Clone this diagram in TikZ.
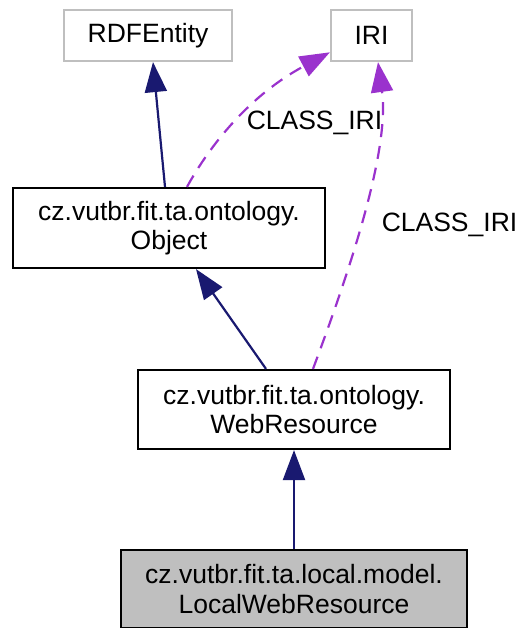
\documentclass[tikz,border=0pt]{standalone}
\usepackage{fontspec}
\setmainfont{Liberation Sans}
\usetikzlibrary{arrows.meta}
\definecolor{navyedge}{HTML}{191970}
\definecolor{purpleedge}{HTML}{9A32CD}
\definecolor{greybox}{HTML}{BFBFBF}
\begin{document}
\begin{tikzpicture}[x=1pt,y=-1pt,
  txt/.style={font=\fontsize{26.5}{29.5}\selectfont},
  cls/.style={txt,draw=black,line width=2.2pt,align=center,inner sep=0pt,fill=white},
  ext/.style={txt,draw=greybox,line width=2.2pt,align=center,inner sep=0pt,fill=white},
  inherit/.style={draw=navyedge,line width=2.2pt,-{Triangle[length=30pt,width=22pt]}},
  usage/.style={draw=purpleedge,line width=2.2pt,dash pattern=on 13pt off 9pt,-{Triangle[length=30pt,width=22pt]}},
  lbl/.style={txt}]
\useasboundingbox (0,0) rectangle (520,628);
\node[ext,minimum width=168pt,minimum height=51pt] (rdf) at (148,35.5) {RDFEntity};
\node[ext,minimum width=81pt,minimum height=51pt] (iri) at (371.5,35.5) {IRI};
\node[cls,minimum width=312pt,minimum height=80pt] (obj) at (169,228) {cz.vutbr.fit.ta.ontology.\\Object};
\node[cls,minimum width=312pt,minimum height=79pt] (web) at (294,409.5) {cz.vutbr.fit.ta.ontology.\\WebResource};
\node[cls,fill=greybox,minimum width=346pt,minimum height=78pt] (loc) at (294,589) {cz.vutbr.fit.ta.local.model.\\LocalWebResource};
\draw[inherit] ([xshift=-4pt]obj.north) -- ([xshift=5pt]rdf.south);
\draw[usage] ([xshift=18pt]obj.north) .. controls (210,145) and (250,95) .. (iri.202);
\draw[inherit] ([xshift=-28pt]web.north) -- ([xshift=27pt]obj.south);
\draw[usage] ([xshift=19pt]web.north) .. controls (350,270) and (390,150) .. ([xshift=6.5pt]iri.south);
\draw[inherit] (loc.north) -- (web.south);
\node[lbl] (l1) at (314.5,123) {CLASS\_IRI};
\node[lbl] (l2) at (449.5,225) {CLASS\_IRI};
\end{tikzpicture}
\end{document}
